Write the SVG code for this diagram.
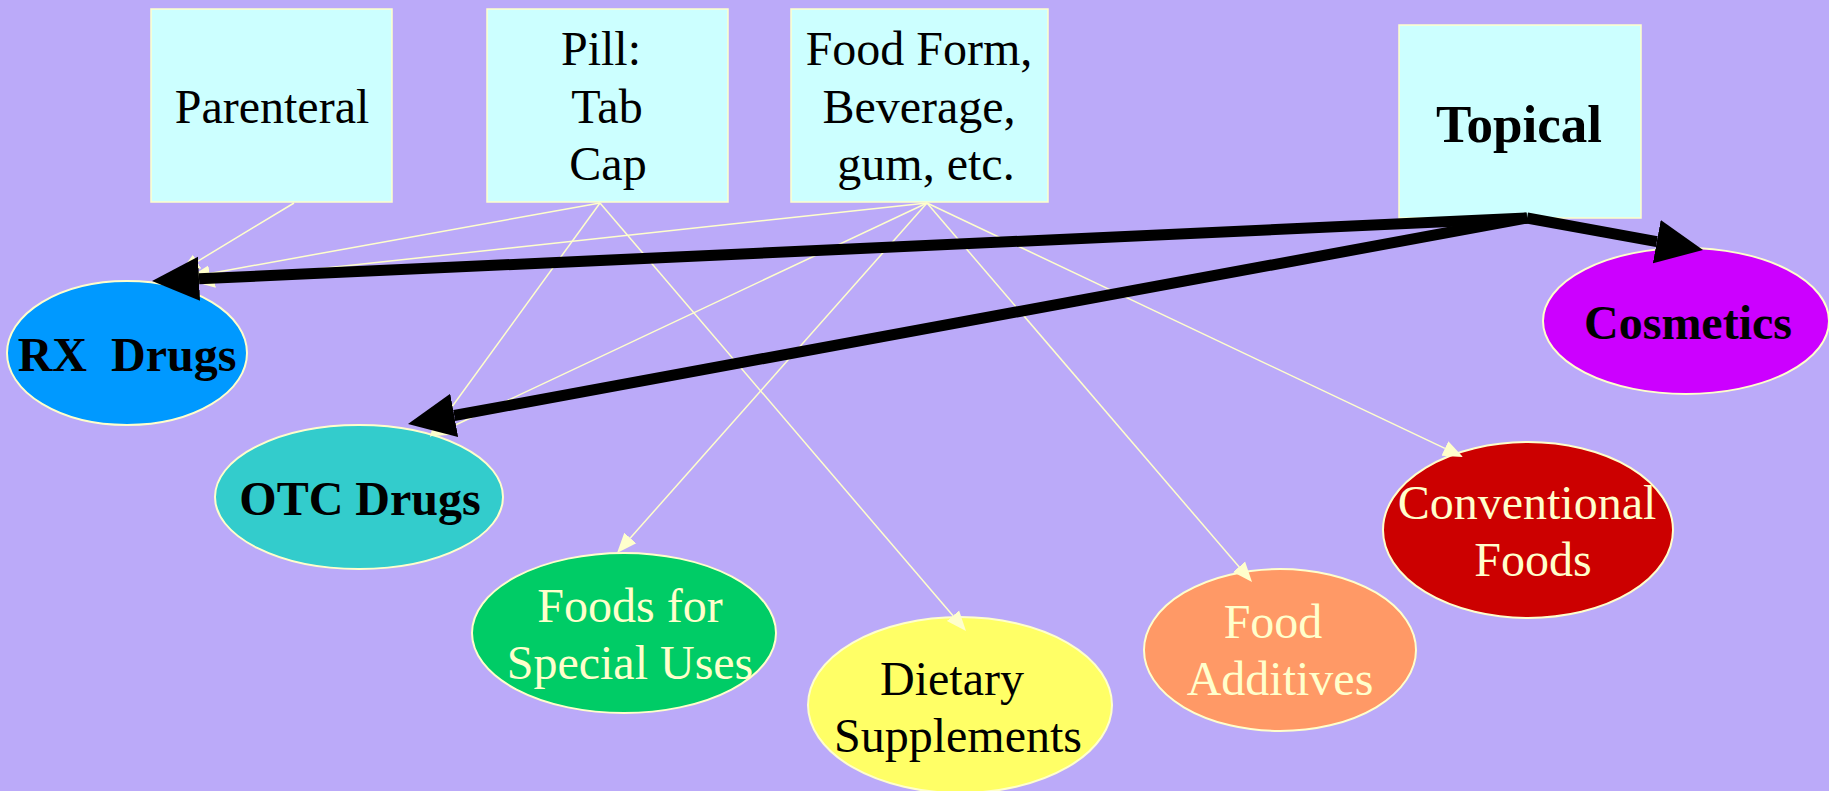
<svg xmlns="http://www.w3.org/2000/svg" width="1829" height="791" viewBox="0 0 1829 791">
<style>
.box{fill:#CCFFFF;stroke:#FFFFCC;stroke-width:1.5}
.ell{stroke:#FFFFCC;stroke-width:2}
text{font-family:"Liberation Serif","Times New Roman",serif;font-size:48px;text-anchor:middle}
.b{font-weight:bold}
.lt{fill:#FFFFCC}
.dk{fill:#000000}
.thin{stroke:#FFFFCC;stroke-width:1.5;fill:none}
.thick{stroke:#000000;stroke-width:11;fill:none}
</style>
<defs>
<marker id="ah" viewBox="0 -9 21 18" markerWidth="21" markerHeight="18" refX="0" refY="0" orient="auto" markerUnits="userSpaceOnUse">
<path d="M0,-8 L20,0 L0,8 z" fill="#FFFFCC"/>
</marker>
<marker id="bh" viewBox="0 -23 48 46" markerWidth="48" markerHeight="46" refX="0" refY="0" orient="auto" markerUnits="userSpaceOnUse">
<path d="M0,-22 L47,0 L0,22 z" fill="#000000"/>
</marker>
</defs>
<rect width="1829" height="791" fill="#BBAAF9"/>

<g id="parenteral">
<rect class="box" x="151" y="9" width="241" height="193"/>
<text class="dk" x="272" y="123">Parenteral</text>
</g>
<g id="pill">
<rect class="box" x="487" y="9" width="241" height="193"/>
<text class="dk" x="601" y="65">Pill:</text>
<text class="dk" x="607" y="123">Tab</text>
<text class="dk" x="608" y="180">Cap</text>
</g>
<g id="foodform">
<rect class="box" x="791" y="9" width="257" height="193"/>
<text class="dk" x="919" y="65">Food Form,</text>
<text class="dk" x="919" y="123">Beverage,</text>
<text class="dk" x="926" y="180">gum, etc.</text>
</g>
<g id="topical">
<rect class="box" x="1399" y="25" width="242" height="193"/>
<text class="dk b" x="1519" y="142" style="font-size:53px">Topical</text>
</g>
<g id="rx">
<ellipse class="ell" cx="127" cy="353" rx="120" ry="72" fill="#0099FF"/>
<text class="dk b" x="127" y="371" style="white-space:pre">RX  Drugs</text>
</g>
<g id="otc">
<ellipse class="ell" cx="359" cy="497" rx="144" ry="72" fill="#33CCCC"/>
<text class="dk b" x="360" y="515">OTC Drugs</text>
</g>
<g id="cosmetics">
<ellipse class="ell" cx="1686" cy="321" rx="143" ry="73" fill="#CC00FF"/>
<text class="dk b" x="1688" y="339">Cosmetics</text>
</g>
<g id="special">
<ellipse class="ell" cx="624" cy="633" rx="152" ry="80" fill="#00CC66"/>
<text class="lt" x="630" y="622">Foods for</text>
<text class="lt" x="630" y="679">Special Uses</text>
</g>
<g id="dietary">
<ellipse class="ell" cx="960" cy="705" rx="152" ry="88" fill="#FFFF66"/>
<text class="dk" x="952" y="695">Dietary</text>
<text class="dk" x="958" y="752">Supplements</text>
</g>
<g id="additives">
<ellipse class="ell" cx="1280" cy="650" rx="136" ry="81" fill="#FF9966"/>
<text class="lt" x="1273" y="638">Food</text>
<text class="lt" x="1280" y="695">Additives</text>
</g>
<g id="conventional">
<ellipse class="ell" cx="1528" cy="530" rx="145" ry="88" fill="#CC0000"/>
<text class="lt" x="1527" y="519">Conventional</text>
<text class="lt" x="1533" y="576">Foods</text>
</g>

<g id="connectors">
<line class="thin" x1="294" y1="203" x2="197.1" y2="261.6" marker-end="url(#ah)"/>
<line class="thin" x1="600" y1="203" x2="209.7" y2="273.4" marker-end="url(#ah)"/>
<line class="thin" x1="927" y1="203" x2="214.9" y2="279.9" marker-end="url(#ah)"/>
<line class="thin" x1="600" y1="203" x2="441.8" y2="420.8" marker-end="url(#ah)"/>
<line class="thin" x1="927" y1="203" x2="450.1" y2="427.5" marker-end="url(#ah)"/>
<line class="thin" x1="927" y1="203" x2="630.3" y2="538" marker-end="url(#ah)"/>
<line class="thin" x1="600" y1="203" x2="953" y2="615.8" marker-end="url(#ah)"/>
<line class="thin" x1="927" y1="203" x2="1239" y2="566.8" marker-end="url(#ah)"/>
<line class="thin" x1="927" y1="203" x2="1444.9" y2="448.4" marker-end="url(#ah)"/>
<line class="thick" x1="1527" y1="218" x2="199" y2="278.8" marker-end="url(#bh)"/>
<line class="thick" x1="1527" y1="218" x2="454.2" y2="415.5" marker-end="url(#bh)"/>
<line class="thick" x1="1527" y1="218" x2="1656.8" y2="241.6" marker-end="url(#bh)"/>
</g>
</svg>
